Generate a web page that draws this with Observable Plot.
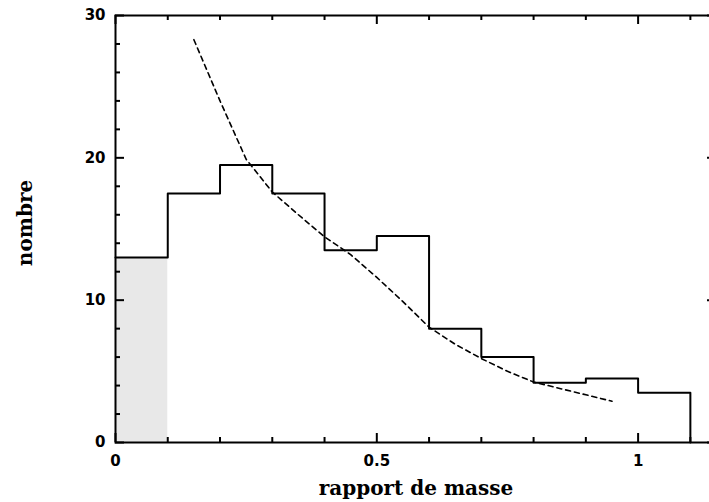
<!DOCTYPE html>
<html><head><meta charset="utf-8">
<script src="https://cdn.jsdelivr.net/npm/d3@7"></script>
<script src="https://cdn.jsdelivr.net/npm/@observablehq/plot@0.6"></script>
<style>
html,body{margin:0;padding:0;overflow:hidden;background:#fff}
#chart svg{max-width:none}
</style>
</head><body><div id="chart"></div>
<script>
// Histogram: number of systems per mass-ratio bin
const binStarts = [0.0, 0.1, 0.2, 0.3, 0.4, 0.5, 0.6, 0.7, 0.8, 0.9, 1.0];
const binWidth = 0.1;
const counts = [13, 17.5, 19.5, 17.5, 13.5, 14.5, 8, 6, 4.2, 4.5, 3.5];
const shadedBins = [0];

// Dashed fitted curve
const fitX = [0.15, 0.20, 0.25, 0.30, 0.35, 0.40, 0.45, 0.50, 0.55, 0.60, 0.65, 0.70, 0.75, 0.80, 0.85, 0.90, 0.95];
const fitY = [28.3, 24.0, 19.9, 17.6, 16.0, 14.45, 13.2, 11.6, 9.9, 8.1, 6.9, 5.9, 5.0, 4.25, 3.8, 3.35, 2.9];

// Ticks
const xMajorTicks = [0, 0.5, 1];
const xMajorLabels = ["0", "0.5", "1"];
const xMinorTicks = [0.1, 0.2, 0.3, 0.4, 0.6, 0.7, 0.8, 0.9, 1.1];
const yMajorTicks = [0, 10, 20, 30];
const yMinorTicks = [2, 4, 6, 8, 12, 14, 16, 18, 22, 24, 26, 28];
const xTitle = "rapport de masse";
const yTitle = "nombre";

const stepData = binStarts.map((x, i) => ({x, y: counts[i]}));
stepData.push({x: binStarts[binStarts.length - 1] + binWidth, y: 0});
const shaded = shadedBins.map(i => ({x1: binStarts[i], x2: binStarts[i] + binWidth, y: counts[i]}));
const fit = fitX.map((x, i) => ({x, y: fitY[i]}));

const W = 720, H = 502, mL = 115, mR = 4, mT = 15, mB = 60;
const fw = W - mL - mR, fh = H - mT - mB;
const MAJ = 9, MIN = 5;
const tk = {stroke: "#000", strokeWidth: 2};

const chart = Plot.plot({
  width: W,
  height: H,
  marginLeft: mL,
  marginRight: mR,
  marginTop: mT,
  marginBottom: mB,
  style: {fontFamily: "DejaVu Sans", fontWeight: "bold", fontSize: "15px", color: "#000", background: "#fff", maxWidth: "none"},
  x: {domain: [0, 1.15], axis: null},
  y: {domain: [0, 30], axis: null},
  marks: [
    Plot.rectY(shaded, {x1: "x1", x2: "x2", y: "y", fill: "#e8e8e8"}),
    Plot.line(stepData, {x: "x", y: "y", curve: "step-after", stroke: "#000", strokeWidth: 2}),
    Plot.line(fit, {x: "x", y: "y", stroke: "#000", strokeWidth: 1.6, strokeDasharray: "5,4"}),
    Plot.frame({stroke: "#000", strokeWidth: 2}),
    // inward ticks on all four sides
    Plot.tickX(xMajorTicks, {x: d => d, insetTop: fh - MAJ, ...tk}),
    Plot.tickX(xMinorTicks, {x: d => d, insetTop: fh - MIN, ...tk}),
    Plot.tickX(xMajorTicks, {x: d => d, insetBottom: fh - MAJ, ...tk}),
    Plot.tickX(xMinorTicks, {x: d => d, insetBottom: fh - MIN, ...tk}),
    Plot.tickY(yMajorTicks, {y: d => d, insetRight: fw - MAJ, ...tk}),
    Plot.tickY(yMinorTicks, {y: d => d, insetRight: fw - MIN, ...tk}),
    Plot.tickY(yMajorTicks, {y: d => d, insetLeft: fw - MAJ, ...tk}),
    Plot.tickY(yMinorTicks, {y: d => d, insetLeft: fw - MIN, ...tk}),
    // tick labels
    Plot.axisX(xMajorTicks, {anchor: "bottom", tickSize: 0, tickPadding: 13, label: null,
      tickFormat: d => xMajorLabels[xMajorTicks.indexOf(d)]}),
    Plot.axisY(yMajorTicks, {anchor: "left", tickSize: 0, tickPadding: 10, label: null}),
    // titles
    Plot.text([xTitle], {text: d => d, frameAnchor: "bottom", textAnchor: "middle", dy: 46, lineAnchor: "middle",
      fontFamily: "DejaVu Serif", fontWeight: "bold", fontSize: 20}),
    Plot.text([yTitle], {text: d => d, frameAnchor: "left", textAnchor: "middle", dx: -90, dy: -6, rotate: -90, lineAnchor: "middle",
      fontFamily: "DejaVu Serif", fontWeight: "bold", fontSize: 20})
  ]
});
document.getElementById("chart").appendChild(chart);
</script>
</body></html>
